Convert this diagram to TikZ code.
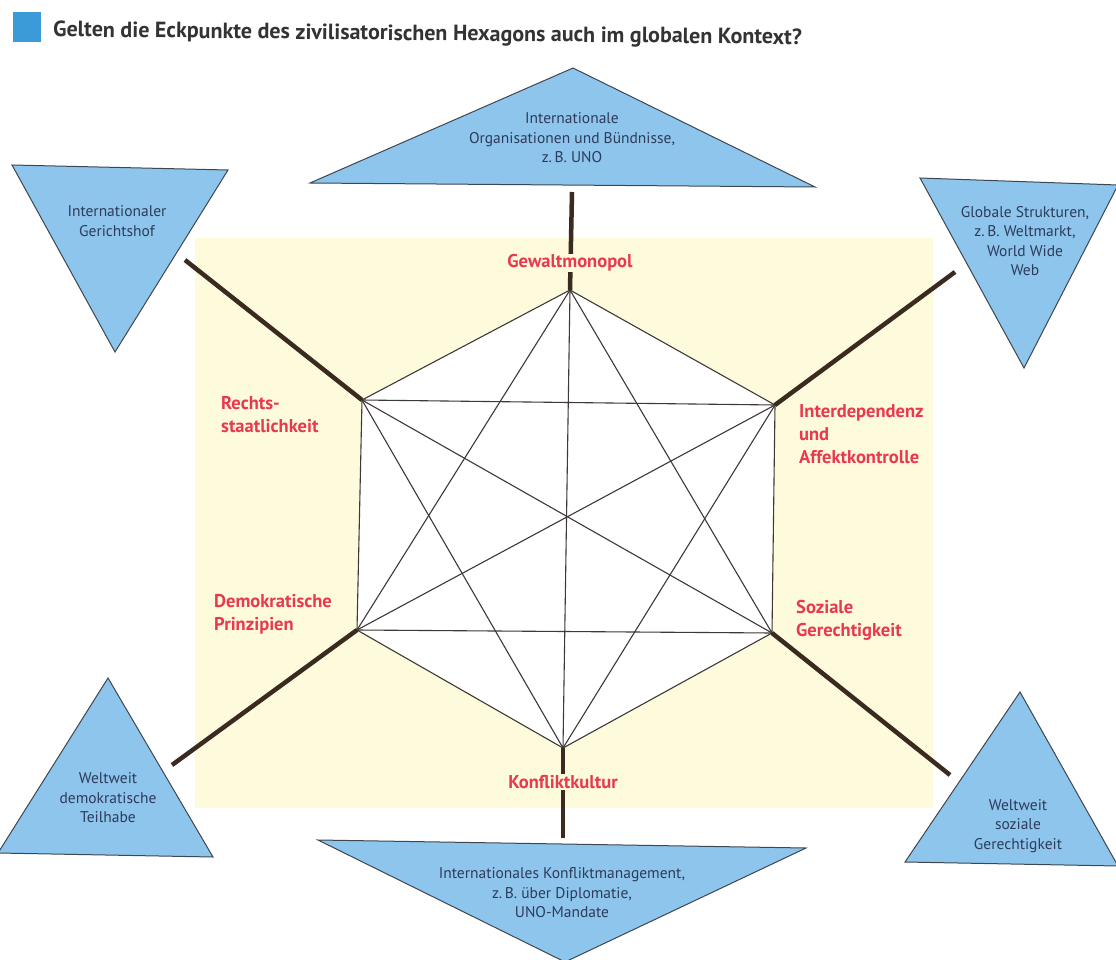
\documentclass[tikz,border=0pt]{standalone}
\usepackage{fontspec}
\setmainfont{PT Sans}
\definecolor{bgyellow}{HTML}{FEFBDC}
\definecolor{triblue}{HTML}{8EC5EC}
\definecolor{trigray}{HTML}{3E4650}
\definecolor{tritxt}{HTML}{2E3B5A}
\definecolor{labred}{HTML}{E8394E}
\definecolor{hexgray}{HTML}{3F3838}
\definecolor{stemc}{HTML}{3A2A20}
\definecolor{titleblue}{HTML}{3B9BD8}
\definecolor{titletxt}{HTML}{333333}
\begin{document}
\begin{tikzpicture}[x=1pt,y=-1pt,
  hexline/.style={draw=hexgray, line width=1.1pt},
  stem/.style={draw=stemc, line width=4.5pt},
  tri/.style={fill=triblue, draw=trigray, line width=1pt, line join=miter},
  tritext/.style={text=tritxt, font=\fontsize{15.5}{19.5}\selectfont, align=center, inner sep=0pt},
  lab/.style={text=labred, font=\bfseries\fontsize{18.5}{23}\selectfont, align=left, inner sep=1pt},
]
\useasboundingbox (0,0) rectangle (1116,960);
% background
\fill[bgyellow] (195,238) rectangle (933,808);
% title
\fill[titleblue] (13,12) rectangle (41,42);
\node[anchor=west, text=titletxt, font=\bfseries\fontsize{22}{25}\selectfont, rotate=-0.6, inner sep=0pt] (title) at (53,31) {Gelten die Eckpunkte des zivilisatorischen Hexagons auch im globalen Kontext?};
% hexagon corners
\coordinate (T) at (570,290);
\coordinate (UR) at (775,405);
\coordinate (LR) at (772,633);
\coordinate (B) at (563,748);
\coordinate (LL) at (357,630);
\coordinate (UL) at (362,400);
\fill[white] (T)--(UR)--(LR)--(B)--(LL)--(UL)--cycle;
\foreach \a/\b in {T/UR,UR/LR,LR/B,B/LL,LL/UL,UL/T,T/LR,T/LL,T/B,UR/B,UR/UL,UR/LL,LR/LL,LR/UL,B/UL}
  \draw[hexline] (\a)--(\b);
% stem ends
\coordinate (eT) at (572,192);
\coordinate (eUL) at (185,260);
\coordinate (eUR) at (955,272);
\coordinate (eLL) at (172,765);
\coordinate (eLR) at (950,775);
\coordinate (eB) at (563,838);
\foreach \a/\b in {T/eT,UL/eUL,UR/eUR,LL/eLL,LR/eLR,B/eB}
  \draw[stem] (\a)--(\b);
% triangles
\draw[tri] (310,183) -- (573,68) -- (815,187) -- cycle;
\draw[tri] (12,165) -- (228,170) -- (115,352) -- cycle;
\draw[tri] (920,178) -- (1118,185) -- (1024,368) -- cycle;
\draw[tri] (108,678) -- (213,857) -- (-2,853) -- cycle;
\draw[tri] (1020,692) -- (1118,866) -- (905,862) -- cycle;
\draw[tri] (318,840) -- (806,848) -- (565,962) -- cycle;
% triangle texts
\node[tritext] (tTop) at (572,138) {Internationale\\Organisationen und Bündnisse,\\z.\,B. UNO};
\node[tritext] (tTL) at (117,221) {Internationaler\\Gerichtshof};
\node[tritext] (tTR) at (1025,241) {Globale Strukturen,\\z.\,B. Weltmarkt,\\World Wide\\Web};
\node[tritext] (tBL) at (108,798) {Weltweit\\demokratische\\Teilhabe};
\node[tritext] (tBR) at (1018,826) {Weltweit\\soziale\\Gerechtigkeit};
\node[tritext] (tB) at (562,893) {Internationales Konfliktmanagement,\\z.\,B. über Diplomatie,\\UNO-Mandate};
% labels
\node[lab, fill=bgyellow, align=center] (lT) at (570,263) {Gewaltmonopol};
\node[lab, anchor=west] (lUL) at (220,415) {Rechts-\\staatlichkeit};
\node[lab, anchor=west] (lUR) at (798,434) {Interdependenz\\und\\Affektkontrolle};
\node[lab, anchor=west] (lLL) at (213,614) {Demokratische\\Prinzipien};
\node[lab, anchor=west] (lLR) at (795,620) {Soziale\\Gerechtigkeit};
\node[lab, fill=bgyellow, align=center] (lB) at (563,782) {Konfliktkultur};
\end{tikzpicture}
\end{document}
